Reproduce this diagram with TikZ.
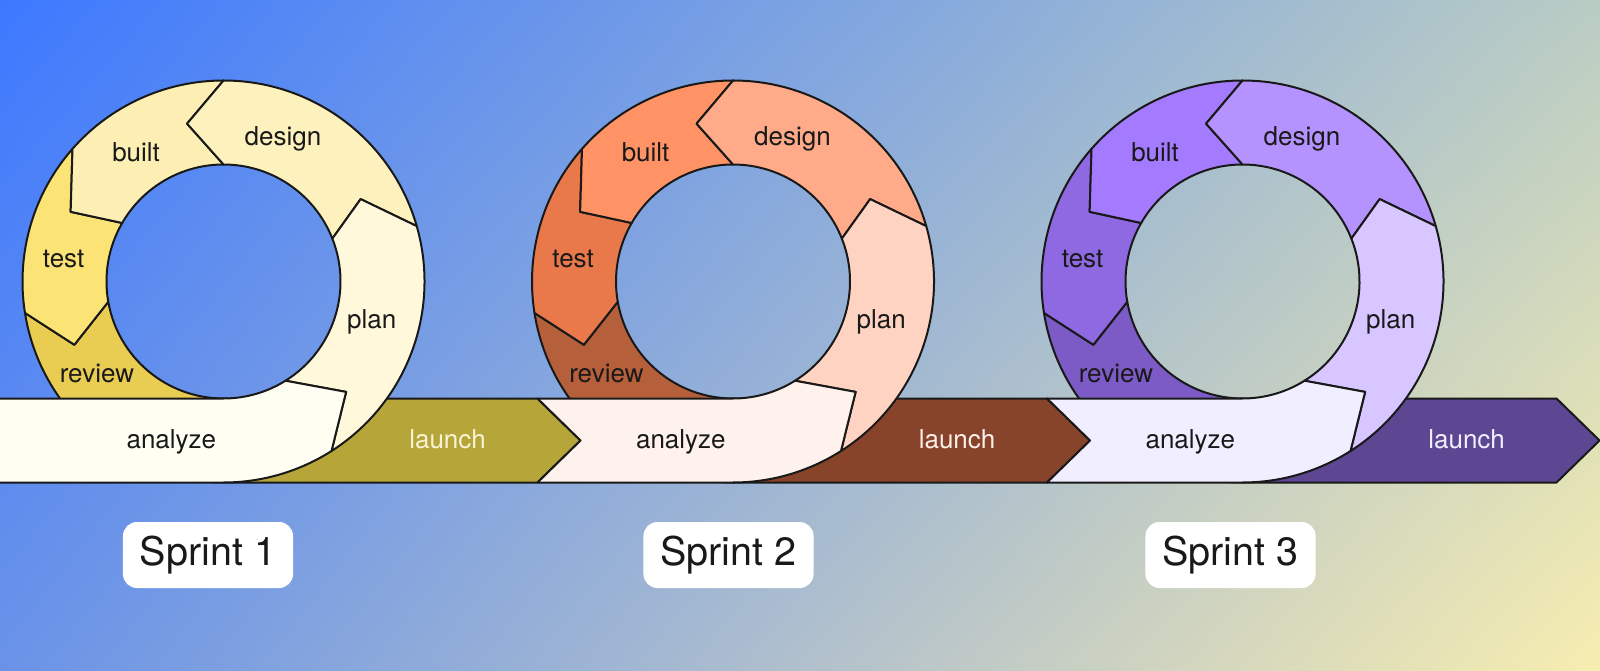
\documentclass[tikz,border=0pt]{standalone}
\usepackage{fontspec}
\setmainfont{TeX Gyre Heros}
\usetikzlibrary{shadings}
\begin{document}
\begin{tikzpicture}[x=1pt, y=1pt, line join=round]
% Sprint loops drawn on a 1600x670 canvas, one unit per pixel
\def\outerR{201}
\def\innerR{117}
\providecommand{\loopLineColor}{black!90}
\providecommand{\loopLineWidth}{2pt}
\tikzset{
  looppart/.style={draw=\loopLineColor, line width=\loopLineWidth},
  steplabel/.style={font=\fontsize{26}{31}\selectfont, text=black!90, inner sep=0pt},
  launchlabel/.style={font=\fontsize{26}{31}\selectfont, inner sep=0pt},
  sprintbox/.style={fill=white, rounded corners=14pt, minimum height=66pt, inner xsep=17pt,
    font=\fontsize{39.5}{45}\selectfont, text=black!90}
}
% Background
\useasboundingbox (0,0) rectangle (1600,670);
\shade[upper left={rgb,255:red,61;green,120;blue,255}, upper right={rgb,255:red,185;green,204;blue,196},
  lower left={rgb,255:red,106;green,147;blue,232}, lower right={rgb,255:red,247;green,237;blue,176}]
  (0,0) rectangle (1600,670);
\clip (0,0) rectangle (1600,670);
% Sprint 1
\begin{scope}[shift={(223.5,388.5)}]
  \filldraw[looppart, fill={rgb,255:red,182;green,166;blue,58}] (0,-\outerR) -- (314,-\outerR) -- (357,-159) -- (314,-\innerR) -- (0,-\innerR) -- cycle;
  \filldraw[looppart, fill={rgb,255:red,233;green,205;blue,82}] (189:\outerR) arc[start angle=189, end angle=270, radius=\outerR] -- (270:\innerR) arc[start angle=270, end angle=190, radius=\innerR] -- (203:162) -- cycle;
  \filldraw[looppart, fill={rgb,255:red,252;green,227;blue,118}] (138.7:\outerR) arc[start angle=138.7, end angle=189, radius=\outerR] -- (203:162) -- (190:\innerR) arc[start angle=190, end angle=150, radius=\innerR] -- (155.5:168) -- cycle;
  \filldraw[looppart, fill={rgb,255:red,253;green,239;blue,180}] (90:\outerR) arc[start angle=90, end angle=138.7, radius=\outerR] -- (155.5:168) -- (150:\innerR) arc[start angle=150, end angle=90, radius=\innerR] -- (103:162) -- cycle;
  \filldraw[looppart, fill={rgb,255:red,253;green,242;blue,190}] (16:\outerR) arc[start angle=16, end angle=90, radius=\outerR] -- (103:162) -- (90:\innerR) arc[start angle=90, end angle=21.5, radius=\innerR] -- (31:160) -- cycle;
  \filldraw[looppart, fill={rgb,255:red,255;green,248;blue,218}] (-57.5:\outerR) arc[start angle=-57.5, end angle=16, radius=\outerR] -- (31:160) -- (21.5:\innerR) arc[start angle=21.5, end angle=-58, radius=\innerR] -- (-42:165) -- cycle;
  \filldraw[looppart, fill={rgb,255:red,255;green,254;blue,243}] (-300,-\innerR) -- (0,-\innerR) arc[start angle=-90, end angle=-58, radius=\innerR] -- (-42:165) -- (-57.5:\outerR) arc[start angle=-57.5, end angle=-90, radius=\outerR] -- (-300,-\outerR) -- (-257,-159) -- cycle;
  \node[steplabel] (design1) at (59.5,142.2) {design};
  \node[steplabel] (built1) at (-87.4,128.8) {built};
  \node[steplabel] (test1) at (-159.9,22.5) {test};
  \node[steplabel] (plan1) at (148.3,-40.2) {plan};
  \node[steplabel] (review1) at (-126.6,-92.5) {review};
  \node[steplabel] (analyze1) at (-52.2,-160) {analyze};
  \node[launchlabel, text={rgb,255:red,248;green,243;blue,214}] (launch1) at (224.1,-158) {launch};
\end{scope}
% Sprint 2
\begin{scope}[shift={(733,388.5)}]
  \filldraw[looppart, fill={rgb,255:red,136;green,68;blue,42}] (0,-\outerR) -- (314,-\outerR) -- (357,-159) -- (314,-\innerR) -- (0,-\innerR) -- cycle;
  \filldraw[looppart, fill={rgb,255:red,182;green,95;blue,59}] (189:\outerR) arc[start angle=189, end angle=270, radius=\outerR] -- (270:\innerR) arc[start angle=270, end angle=190, radius=\innerR] -- (203:162) -- cycle;
  \filldraw[looppart, fill={rgb,255:red,233;green,120;blue,74}] (138.7:\outerR) arc[start angle=138.7, end angle=189, radius=\outerR] -- (203:162) -- (190:\innerR) arc[start angle=190, end angle=150, radius=\innerR] -- (155.5:168) -- cycle;
  \filldraw[looppart, fill={rgb,255:red,255;green,147;blue,102}] (90:\outerR) arc[start angle=90, end angle=138.7, radius=\outerR] -- (155.5:168) -- (150:\innerR) arc[start angle=150, end angle=90, radius=\innerR] -- (103:162) -- cycle;
  \filldraw[looppart, fill={rgb,255:red,255;green,170;blue,136}] (16:\outerR) arc[start angle=16, end angle=90, radius=\outerR] -- (103:162) -- (90:\innerR) arc[start angle=90, end angle=21.5, radius=\innerR] -- (31:160) -- cycle;
  \filldraw[looppart, fill={rgb,255:red,255;green,211;blue,194}] (-57.5:\outerR) arc[start angle=-57.5, end angle=16, radius=\outerR] -- (31:160) -- (21.5:\innerR) arc[start angle=21.5, end angle=-58, radius=\innerR] -- (-42:165) -- cycle;
  \filldraw[looppart, fill={rgb,255:red,255;green,241;blue,235}] (-195.5,-\innerR) -- (0,-\innerR) arc[start angle=-90, end angle=-58, radius=\innerR] -- (-42:165) -- (-57.5:\outerR) arc[start angle=-57.5, end angle=-90, radius=\outerR] -- (-195.5,-\outerR) -- (-152.5,-159) -- cycle;
  \node[steplabel] (design2) at (59.5,142.2) {design};
  \node[steplabel] (built2) at (-87.4,128.8) {built};
  \node[steplabel] (test2) at (-159.9,22.5) {test};
  \node[steplabel] (plan2) at (148.3,-40.2) {plan};
  \node[steplabel] (review2) at (-126.6,-92.5) {review};
  \node[steplabel] (analyze2) at (-52.2,-160) {analyze};
  \node[launchlabel, text={rgb,255:red,252;green,238;blue,232}] (launch2) at (224.1,-158) {launch};
\end{scope}
% Sprint 3
\begin{scope}[shift={(1242.5,388.5)}]
  \filldraw[looppart, fill={rgb,255:red,94;green,71;blue,146}] (0,-\outerR) -- (314,-\outerR) -- (357,-159) -- (314,-\innerR) -- (0,-\innerR) -- cycle;
  \filldraw[looppart, fill={rgb,255:red,124;green,91;blue,198}] (189:\outerR) arc[start angle=189, end angle=270, radius=\outerR] -- (270:\innerR) arc[start angle=270, end angle=190, radius=\innerR] -- (203:162) -- cycle;
  \filldraw[looppart, fill={rgb,255:red,143;green,105;blue,226}] (138.7:\outerR) arc[start angle=138.7, end angle=189, radius=\outerR] -- (203:162) -- (190:\innerR) arc[start angle=190, end angle=150, radius=\innerR] -- (155.5:168) -- cycle;
  \filldraw[looppart, fill={rgb,255:red,164;green,122;blue,255}] (90:\outerR) arc[start angle=90, end angle=138.7, radius=\outerR] -- (155.5:168) -- (150:\innerR) arc[start angle=150, end angle=90, radius=\innerR] -- (103:162) -- cycle;
  \filldraw[looppart, fill={rgb,255:red,180;green,147;blue,255}] (16:\outerR) arc[start angle=16, end angle=90, radius=\outerR] -- (103:162) -- (90:\innerR) arc[start angle=90, end angle=21.5, radius=\innerR] -- (31:160) -- cycle;
  \filldraw[looppart, fill={rgb,255:red,215;green,198;blue,255}] (-57.5:\outerR) arc[start angle=-57.5, end angle=16, radius=\outerR] -- (31:160) -- (21.5:\innerR) arc[start angle=21.5, end angle=-58, radius=\innerR] -- (-42:165) -- cycle;
  \filldraw[looppart, fill={rgb,255:red,241;green,238;blue,255}] (-195.5,-\innerR) -- (0,-\innerR) arc[start angle=-90, end angle=-58, radius=\innerR] -- (-42:165) -- (-57.5:\outerR) arc[start angle=-57.5, end angle=-90, radius=\outerR] -- (-195.5,-\outerR) -- (-152.5,-159) -- cycle;
  \node[steplabel] (design3) at (59.5,142.2) {design};
  \node[steplabel] (built3) at (-87.4,128.8) {built};
  \node[steplabel] (test3) at (-159.9,22.5) {test};
  \node[steplabel] (plan3) at (148.3,-40.2) {plan};
  \node[steplabel] (review3) at (-126.6,-92.5) {review};
  \node[steplabel] (analyze3) at (-52.2,-160) {analyze};
  \node[launchlabel, text={rgb,255:red,241;green,238;blue,255}] (launch3) at (224.1,-158) {launch};
\end{scope}
% Sprint tags
\node[sprintbox] (sprint1) at (208,115) {Sprint 1};
\node[sprintbox] (sprint2) at (728.5,115) {Sprint 2};
\node[sprintbox] (sprint3) at (1230.5,115) {Sprint 3};
\end{tikzpicture}
\end{document}
